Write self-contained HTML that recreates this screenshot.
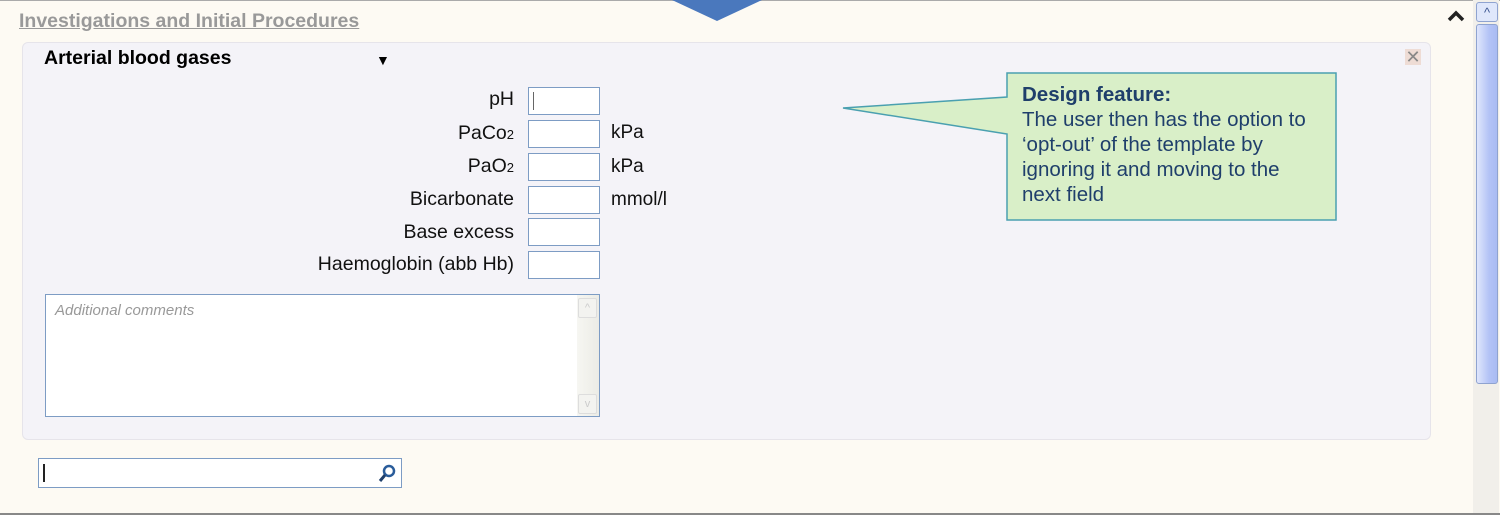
<!DOCTYPE html>
<html><head><style>
body{margin:0;width:1500px;height:515px;overflow:hidden;background:#fdfaf3;font-family:"Liberation Sans",sans-serif;position:relative}
.a{position:absolute}
.lbl{position:absolute;right:986px;font-size:19.5px;color:#111;text-align:right;white-space:nowrap}
.in{position:absolute;left:528px;width:70px;height:26px;border:1px solid #7d9cc4;background:#fff}
.u{position:absolute;left:611px;font-size:19px;color:#111}
</style></head><body>
<div class="a" style="left:0;top:0;width:1500px;height:1px;background:#aaa"></div>
<div class="a" style="left:0;top:513px;width:1500px;height:2px;background:#888"></div>
<div class="a" style="left:19px;top:10px;font-size:19.5px;font-weight:bold;color:#999;text-decoration:underline">Investigations and Initial Procedures</div>
<svg class="a" style="left:1446px;top:9px" width="20" height="14"><polyline points="3,11 10,4 17,11" fill="none" stroke="#222" stroke-width="3.5"/></svg>
<div class="a" style="left:1473px;top:0;width:26px;height:513px;background:#f1efea"></div>
<div class="a" style="left:1476px;top:2px;width:20px;height:18px;border:1px solid #8fa3d0;border-radius:3px;background:#dfe7fb;color:#3b5590;font-size:13px;text-align:center;line-height:20px">^</div>
<div class="a" style="left:1476px;top:24px;width:20px;height:358px;border:1px solid #8fa3d0;border-radius:3px;background:linear-gradient(90deg,#dfe6fc,#b3c3f6 60%,#a9bbf2)"></div>
<div class="a" style="left:22px;top:42px;width:1407px;height:396px;background:#f4f3f8;border:1px solid #e6e4ea;border-radius:6px"></div>
<div class="a" style="left:44px;top:47px;font-size:19.5px;font-weight:bold;color:#000">Arterial blood gases</div>
<div class="a" style="left:376px;top:52px;font-size:14px;color:#000">&#9660;</div>
<div class="a" style="left:1405px;top:49px;width:16px;height:16px;background:#eedcd5;color:#888;font-size:18px;line-height:16px;text-align:center">&#10005;</div>
<div class="lbl" style="top:88px">pH</div><div class="in" style="top:87px"><div style="position:absolute;left:4px;top:4px;width:1px;height:18px;background:#666"></div></div>
<div class="lbl" style="top:122px">PaCo<span style="font-size:13px">2</span></div><div class="in" style="top:120px"></div><div class="u" style="top:122px">kPa</div>
<div class="lbl" style="top:155px">PaO<span style="font-size:13px">2</span></div><div class="in" style="top:153px"></div><div class="u" style="top:156px">kPa</div>
<div class="lbl" style="top:188px">Bicarbonate</div><div class="in" style="top:186px"></div><div class="u" style="top:189px">mmol/l</div>
<div class="lbl" style="top:221px">Base excess</div><div class="in" style="top:218px"></div>
<div class="lbl" style="top:253px">Haemoglobin (abb Hb)</div><div class="in" style="top:251px"></div>
<div class="a" style="left:45px;top:294px;width:553px;height:121px;border:1px solid #7d9cc4;background:#fff">
<div class="a" style="left:9px;top:7px;font-size:15px;font-style:italic;color:#999">Additional comments</div>
<div class="a" style="right:0;top:0;width:22px;height:121px;background:linear-gradient(90deg,#f6f6f2,#ecece6)"></div>
<div class="a" style="right:2px;top:3px;width:17px;height:18px;border:1px solid #ddd;border-radius:2px;background:#f3f3f0;color:#ccc;font-size:11px;text-align:center;line-height:18px">^</div>
<div class="a" style="right:2px;top:99px;width:17px;height:18px;border:1px solid #ddd;border-radius:2px;background:#f3f3f0;color:#ccc;font-size:11px;text-align:center;line-height:18px">v</div>
</div>
<div class="a" style="left:38px;top:458px;width:362px;height:28px;border:1px solid #7d9cc4;background:#fff">
<div class="a" style="left:4px;top:5px;width:2px;height:18px;background:#222"></div>
<svg class="a" style="left:338px;top:4px" width="20" height="20"><circle cx="12" cy="8" r="5" fill="none" stroke="#2a5c9a" stroke-width="2.5"/><line x1="8" y1="12" x2="3" y2="18" stroke="#1f3f6b" stroke-width="3"/></svg>
</div>
<svg class="a" style="left:0;top:0" width="1500" height="515">
<polygon points="672,0 762,0 717,21" fill="#4a78bd"/>
<polygon points="1007,73 1336,73 1336,220 1007,220 1007,134 843,108 1007,97" fill="#d9efc8" stroke="#4aa0b0" stroke-width="1.5"/>
</svg>
<div class="a" style="left:1022px;top:82px;font-size:20.5px;line-height:25px;color:#1f3f6b;white-space:nowrap"><b>Design feature:</b><br>The user then has the option to<br>‘opt-out’ of the template by<br>ignoring it and moving to the<br>next field</div>
</body></html>
